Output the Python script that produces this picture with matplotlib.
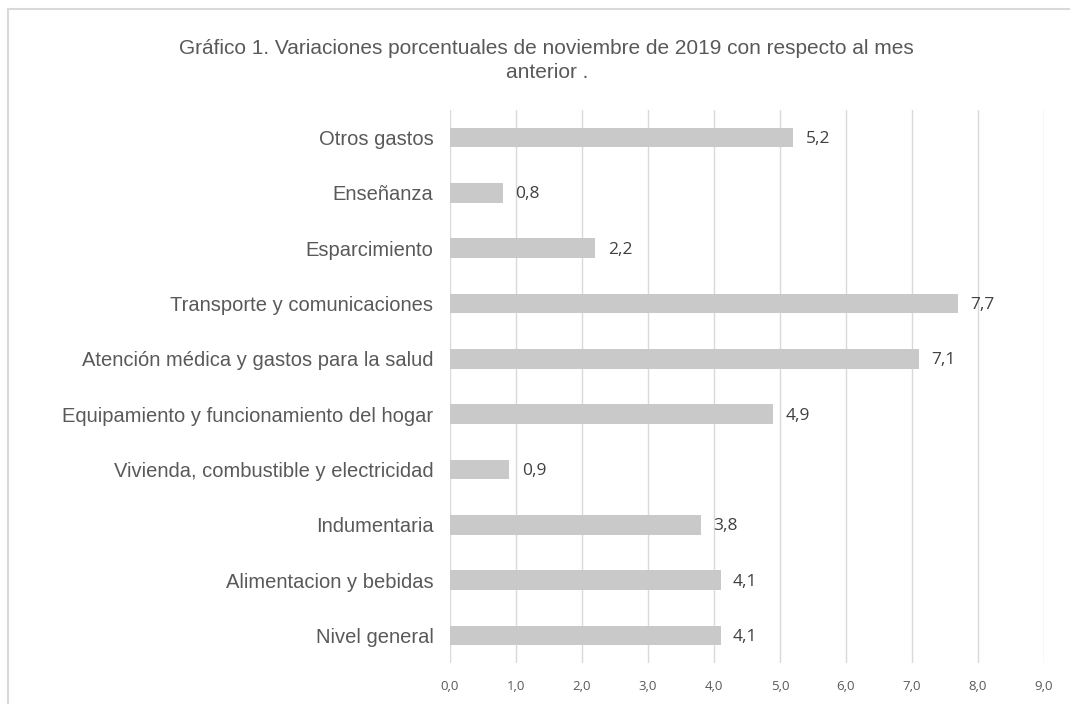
import matplotlib.pyplot as plt
from matplotlib.patches import Rectangle

categories = ["Nivel general", "Alimentacion y bebidas", "Indumentaria",
              "Vivienda, combustible y electricidad",
              "Equipamiento y funcionamiento del hogar",
              "Atención médica y gastos para la salud",
              "Transporte y comunicaciones", "Esparcimiento", "Enseñanza",
              "Otros gastos"]
values = [4.1, 4.1, 3.8, 0.9, 4.9, 7.1, 7.7, 2.2, 0.8, 5.2]
ticks = [0, 1, 2, 3, 4, 5, 6, 7, 8, 9]

fig = plt.figure(figsize=(10.7, 7.04), dpi=100)
ax = fig.add_axes([0.4206, 0.058, 0.555, 0.786])

pos = list(range(len(categories)))
ax.barh(pos, values, height=0.35, color="#C9C9C9", zorder=2)

# data labels
for y, v in zip(pos, values):
    ax.annotate(f"{v:.1f}".replace(".", ","), (v, y), xytext=(9, -1),
                textcoords="offset points", va="center", ha="left",
                fontsize=12.5, family="Open Sans", color="#404040")

ax.set_xlim(0, 9)
ax.set_ylim(-0.5, 9.5)
ax.set_xticks(ticks)
ax.set_xticklabels([f"{t:.1f}".replace(".", ",") for t in ticks],
                   family="Open Sans", fontsize=9.5, color="#595959")
ax.set_yticks(pos)
ax.set_yticklabels(categories, family="Liberation Sans", fontsize=14.5,
                   color="#595959")
ax.tick_params(axis="both", length=0)
ax.tick_params(axis="y", pad=12)
ax.tick_params(axis="x", pad=12)
ax.grid(axis="x", color="#D9D9D9", linewidth=1, zorder=0)
for s in ax.spines.values():
    s.set_visible(False)

fig.text(0.511, 0.914, "Gráfico 1. Variaciones porcentuales de noviembre de 2019 con respecto al mes\nanterior .",
         ha="center", va="center", fontsize=15, family="Liberation Sans",
         color="#595959", linespacing=1.35)

fig.patches.append(Rectangle((0.0075, -0.05), 1.05, 1.037,
                             transform=fig.transFigure, fill=False,
                             edgecolor="#D9D9D9", linewidth=1.5))

fig.savefig("out.png", dpi=100)
